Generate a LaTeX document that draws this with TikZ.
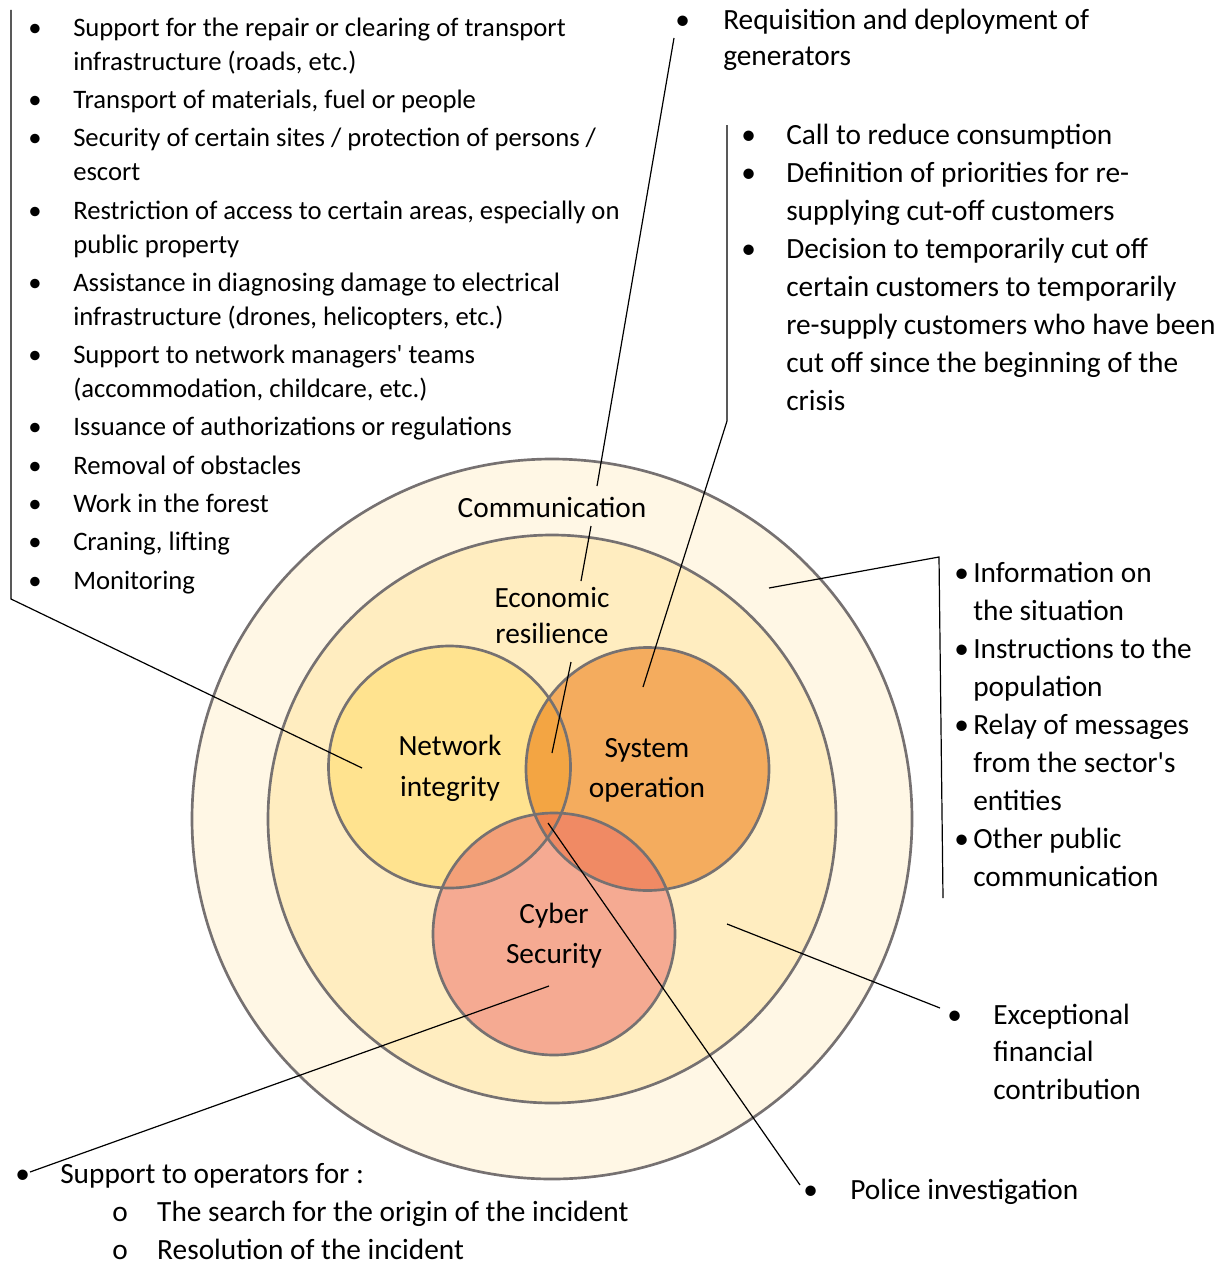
\documentclass[tikz,border=0pt]{standalone}
\usepackage{fontspec}
\setmainfont{Carlito}
\usepackage{xcolor}
\usepackage{tikz}
\usetikzlibrary{positioning}

\definecolor{outerFill}{RGB}{255,247,229}
\definecolor{innerFill}{RGB}{255,237,192}
\definecolor{netFill}{RGB}{255,227,143}
\definecolor{sysFill}{RGB}{244,172,94}
\definecolor{cybFill}{RGB}{245,170,146}
\definecolor{netSys}{RGB}{243,165,67}
\definecolor{netCyb}{RGB}{243,160,120}
\definecolor{sysCyb}{RGB}{240,138,100}
\definecolor{allThree}{RGB}{238,132,80}
\definecolor{ringGray}{RGB}{118,113,113}

\newcommand{\bl}[1]{\makebox[#1][l]{•}}
\newcommand{\hg}[1]{\hspace*{#1}}

\begin{document}
\begin{tikzpicture}[x=0.75pt,y=0.75pt,yscale=-1,xscale=1,
  ring/.style={draw=ringGray,line width=2pt},
  lead/.style={draw=black,line width=0.9pt},
  smalllist/.style={font=\fontsize{20}{25.5}\selectfont,align=left,inner sep=0pt,anchor=base west},
  biglist/.style={font=\fontsize{22}{28.5}\selectfont,align=left,inner sep=0pt,anchor=base west},
  lbl/.style={font=\fontsize{22}{30}\selectfont,align=center,inner sep=0pt}]
  \useasboundingbox (0,0) rectangle (1227,1263);

  % centres
  \coordinate (ctr) at (552,819);
  \coordinate (netC) at (449.5,767);
  \coordinate (sysC) at (647.5,769);
  \coordinate (cybC) at (554,934);

  %Shape: Circle (communication)
  \draw [ring,fill=outerFill] (ctr) circle (360);
  %Shape: Circle (economic resilience)
  \draw [ring,fill=innerFill] (ctr) circle (284);

  %Shape: Circles (venn)
  \fill [netFill] (netC) circle (121);
  \fill [sysFill] (sysC) circle (121.5);
  \fill [cybFill] (cybC) circle (121);
  \begin{scope}
    \clip (netC) circle (121);
    \fill [netSys] (sysC) circle (121.5);
    \fill [netCyb] (cybC) circle (121);
    \clip (sysC) circle (121.5);
    \fill [allThree] (cybC) circle (121);
  \end{scope}
  \begin{scope}
    \clip (sysC) circle (121.5);
    \clip (cybC) circle (121);
    \fill [sysCyb] (netC) ++(-130,0) rectangle ++(400,400);
    \clip (netC) circle (121);
    \fill [allThree] (cybC) circle (121);
  \end{scope}
  \draw [ring] (netC) circle (121);
  \draw [ring] (sysC) circle (121.5);
  \draw [ring] (cybC) circle (121);

  % Text Node
  \node [lbl] (comm) at (552,507) {Communication};
  % Text Node
  \node [lbl,font=\fontsize{22}{27}\selectfont] (econ) at (552,616) {Economic\\resilience};
  % Text Node
  \node [lbl,font=\fontsize{22}{30.75}\selectfont] (net) at (450,768) {Network\\integrity};
  % Text Node
  \node [lbl] (sys) at (647,770) {System\\operation};
  % Text Node
  \node [lbl] (cyb) at (554,936) {Cyber\\Security};

  % Text Node (base = last line)
  \node [smalllist] (netList) at (28,589) {%
    \bl{33.75pt}Support for the repair or clearing of transport\\
    \hg{33.75pt}infrastructure (roads, etc.)\\[3.2pt]
    \bl{33.75pt}Transport of materials, fuel or people\\[3.2pt]
    \bl{33.75pt}Security of certain sites / protection of persons /\\
    \hg{33.75pt}escort\\[3.2pt]
    \bl{33.75pt}Restriction of access to certain areas, especially on\\
    \hg{33.75pt}public property\\[3.2pt]
    \bl{33.75pt}Assistance in diagnosing damage to electrical\\
    \hg{33.75pt}infrastructure (drones, helicopters, etc.)\\[3.2pt]
    \bl{33.75pt}Support to network managers\textquotesingle{} teams\\
    \hg{33.75pt}(accommodation, childcare, etc.)\\[3.2pt]
    \bl{33.75pt}Issuance of authorizations or regulations\\[3.2pt]
    \bl{33.75pt}Removal of obstacles\\[3.2pt]
    \bl{33.75pt}Work in the forest\\[3.2pt]
    \bl{33.75pt}Craning, lifting\\[3.2pt]
    \bl{33.75pt}Monitoring};
  % Text Node
  \node [biglist,font=\fontsize{22}{27.75}\selectfont] (genList) at (675,66) {%
    \bl{36pt}Requisition and deployment of\\
    \hg{36pt}generators};
  % Text Node
  \node [biglist] (sysList) at (741,410) {%
    \bl{33.75pt}Call to reduce consumption\\
    \bl{33.75pt}Definition of priorities for re-\\
    \hg{33.75pt}supplying cut-off customers\\
    \bl{33.75pt}Decision to temporarily cut off\\
    \hg{33.75pt}certain customers to temporarily\\
    \hg{33.75pt}re-supply customers who have been\\
    \hg{33.75pt}cut off since the beginning of the\\
    \hg{33.75pt}crisis};
  % Text Node
  \node [biglist] (commList) at (954,886) {%
    \bl{14.25pt}Information on\\
    \hg{14.25pt}the situation\\
    \bl{14.25pt}Instructions to the\\
    \hg{14.25pt}population\\
    \bl{14.25pt}Relay of messages\\
    \hg{14.25pt}from the sector\textquotesingle{}s\\
    \hg{14.25pt}entities\\
    \bl{14.25pt}Other public\\
    \hg{14.25pt}communication};
  % Text Node
  \node [biglist,font=\fontsize{22}{28.1}\selectfont] (econList) at (947,1099) {%
    \bl{34.5pt}Exceptional\\
    \hg{34.5pt}financial\\
    \hg{34.5pt}contribution};
  % Text Node
  \node [biglist] (polList) at (803,1199) {\bl{35.25pt}Police investigation};
  % Text Node
  \node [biglist] (cybList) at (15,1259) {%
    \bl{33.75pt}Support to operators for :\\
    \hg{72.75pt}\makebox[33.75pt][l]{o}The search for the origin of the incident\\
    \hg{72.75pt}\makebox[33.75pt][l]{o}Resolution of the incident};

  % leader ends
  \coordinate (netTop) at (11,10);
  \coordinate (netKnee) at (11,599);
  \coordinate (netEnd) at (362,768);
  \coordinate (genStart) at (674,38);
  \coordinate (genEnd) at (597,486);
  \coordinate (commStart) at (591,526);
  \coordinate (commEnd) at (581,581);
  \coordinate (econStart) at (571,662);
  \coordinate (econEnd) at (552,753);
  \coordinate (sysTop) at (727,125);
  \coordinate (sysKnee) at (727,421);
  \coordinate (sysEnd) at (643,687);
  \coordinate (ringEnd) at (769,588);
  \coordinate (ringKnee) at (939,557);
  \coordinate (ringBot) at (943,898);
  \coordinate (finStart) at (727,924);
  \coordinate (finEnd) at (940,1008);
  \coordinate (polStart) at (548,823);
  \coordinate (polEnd) at (800,1185);
  \coordinate (cybStart) at (549,986);
  \coordinate (cybEnd) at (30,1172);

  %Straight Lines
  \draw [lead] (netTop) -- (netKnee) -- (netEnd);
  \draw [lead] (genStart) -- (genEnd);
  \draw [lead] (commStart) -- (commEnd);
  \draw [lead] (econStart) -- (econEnd);
  \draw [lead] (sysTop) -- (sysKnee) -- (sysEnd);
  \draw [lead] (ringEnd) -- (ringKnee) -- (ringBot);
  \draw [lead] (finStart) -- (finEnd);
  \draw [lead] (polStart) -- (polEnd);
  \draw [lead] (cybStart) -- (cybEnd);
\end{tikzpicture}
\end{document}
